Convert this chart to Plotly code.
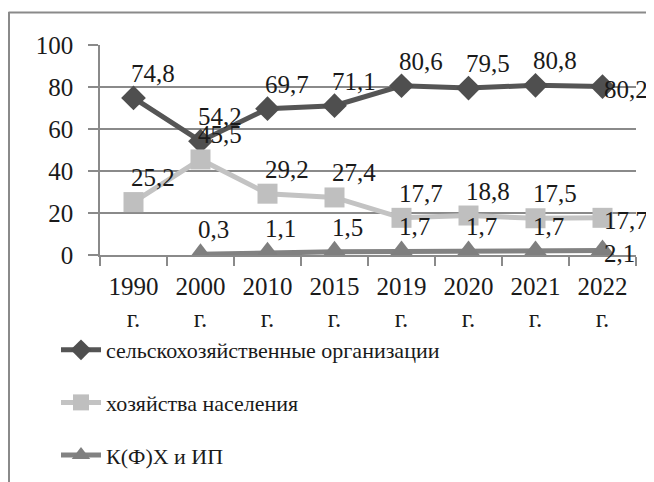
import plotly.graph_objects as go

categories = ["1990<br>г.", "2000<br>г.", "2010<br>г.", "2015<br>г.", "2019<br>г.", "2020<br>г.", "2021<br>г.", "2022<br>г."]
agri_orgs = [74.8, 54.2, 69.7, 71.1, 80.6, 79.5, 80.8, 80.2]
households = [25.2, 45.5, 29.2, 27.4, 17.7, 18.8, 17.5, 17.7]
farms = [None, 0.3, 1.1, 1.5, 1.7, 1.7, 1.7, 2.1]
names = ["сельскохозяйственные организации", "хозяйства населения", "К(Ф)Х и ИП"]
y_ticks = [0, 20, 40, 60, 80, 100]

FONT = "Times New Roman"
FS = 25
LEG_FS = 22
TXT = "#1a1a1a"
GRID = "#8a8a8a"

series = [
    (names[0], agri_orgs, "#555555", "#4f4f4f", "diamond", 19),
    (names[1], households, "#c3c3c3", "#bfbfbf", "square", 20),
    (names[2], farms, "#828282", "#7f7f7f", "triangle-up", 22),
]

fig = go.Figure()
annotations = []
for i, (nm, vals, lc, mc, sym, sz) in enumerate(series):
    fig.add_trace(go.Scatter(
        x=categories, y=vals, name=nm, mode="lines+markers",
        line=dict(color=lc, width=5), connectgaps=False,
        marker=dict(symbol=sym, size=sz, color=mc, line=dict(width=0)),
        legendgroup=f"g{i}",
    ))
    for j, (c, v) in enumerate(zip(categories, vals)):
        if v is None:
            continue
        txt = f"{v:.1f}".replace(".", ",")
        last = j == len(categories) - 1
        annotations.append(dict(
            x=c, y=v, xref="x", yref="y", text=txt, showarrow=False,
            font=dict(family=FONT, size=FS, color=TXT),
            xanchor="left", yanchor="middle" if last else "bottom",
            xshift=-1 if last else -5, yshift=-3 if last else 9,
        ))

# the page has an 8px body margin; figure coordinates below are page pixels minus 8
OFF = 8
W, H = 654 - OFF, 482 - OFF
L, T = 100 - OFF, 45 - OFF
R = W - (636 - OFF)
B = H - (255 - OFF)
pw, ph = W - L - R, H - T - B
def px(xp):
    return (xp - OFF - L) / pw
def py(yp):
    return (H - B - (yp - OFF)) / ph

shapes = [
    dict(type="line", xref="paper", yref="paper", x0=px(8.5), x1=px(680), y0=py(12.5), y1=py(12.5),
         line=dict(color=GRID, width=2)),
    dict(type="line", xref="paper", yref="paper", x0=px(9), x1=px(9), y0=py(12), y1=py(500),
         line=dict(color=GRID, width=2)),
]

fig.update_layout(
    width=W, height=H,
    margin=dict(l=L, r=R, t=T, b=B, autoexpand=False),
    paper_bgcolor="white", plot_bgcolor="white",
    font=dict(family=FONT, size=FS, color=TXT),
    showlegend=True,
    legend=dict(
        x=px(56), y=py(329), xanchor="left", yanchor="top",
        orientation="v", traceorder="grouped", tracegroupgap=21,
        font=dict(family=FONT, size=LEG_FS, color=TXT),
        bgcolor="rgba(0,0,0,0)", itemwidth=40,
    ),
    xaxis=dict(
        type="category", showgrid=False, showline=True, linecolor=GRID, linewidth=1.5,
        ticks="outside", tickson="boundaries", ticklen=9, tickcolor=GRID, tickwidth=1.5,
        ticklabelstandoff=8,
        tickfont=dict(family=FONT, size=FS, color=TXT), fixedrange=True,
        range=[-0.5, len(categories) - 0.5], automargin=False,
    ),
    yaxis=dict(
        range=[0, 100], tickvals=y_ticks, showgrid=True, gridcolor=GRID, gridwidth=1.5,
        showline=True, linecolor=GRID, linewidth=1.5,
        ticks="outside", ticklen=10, tickcolor=GRID, tickwidth=1.5,
        ticklabelstandoff=10, zeroline=False, automargin=False,
        tickfont=dict(family=FONT, size=FS, color=TXT), fixedrange=True,
    ),
    shapes=shapes,
    annotations=annotations,
)

fig.write_html("out.html")
